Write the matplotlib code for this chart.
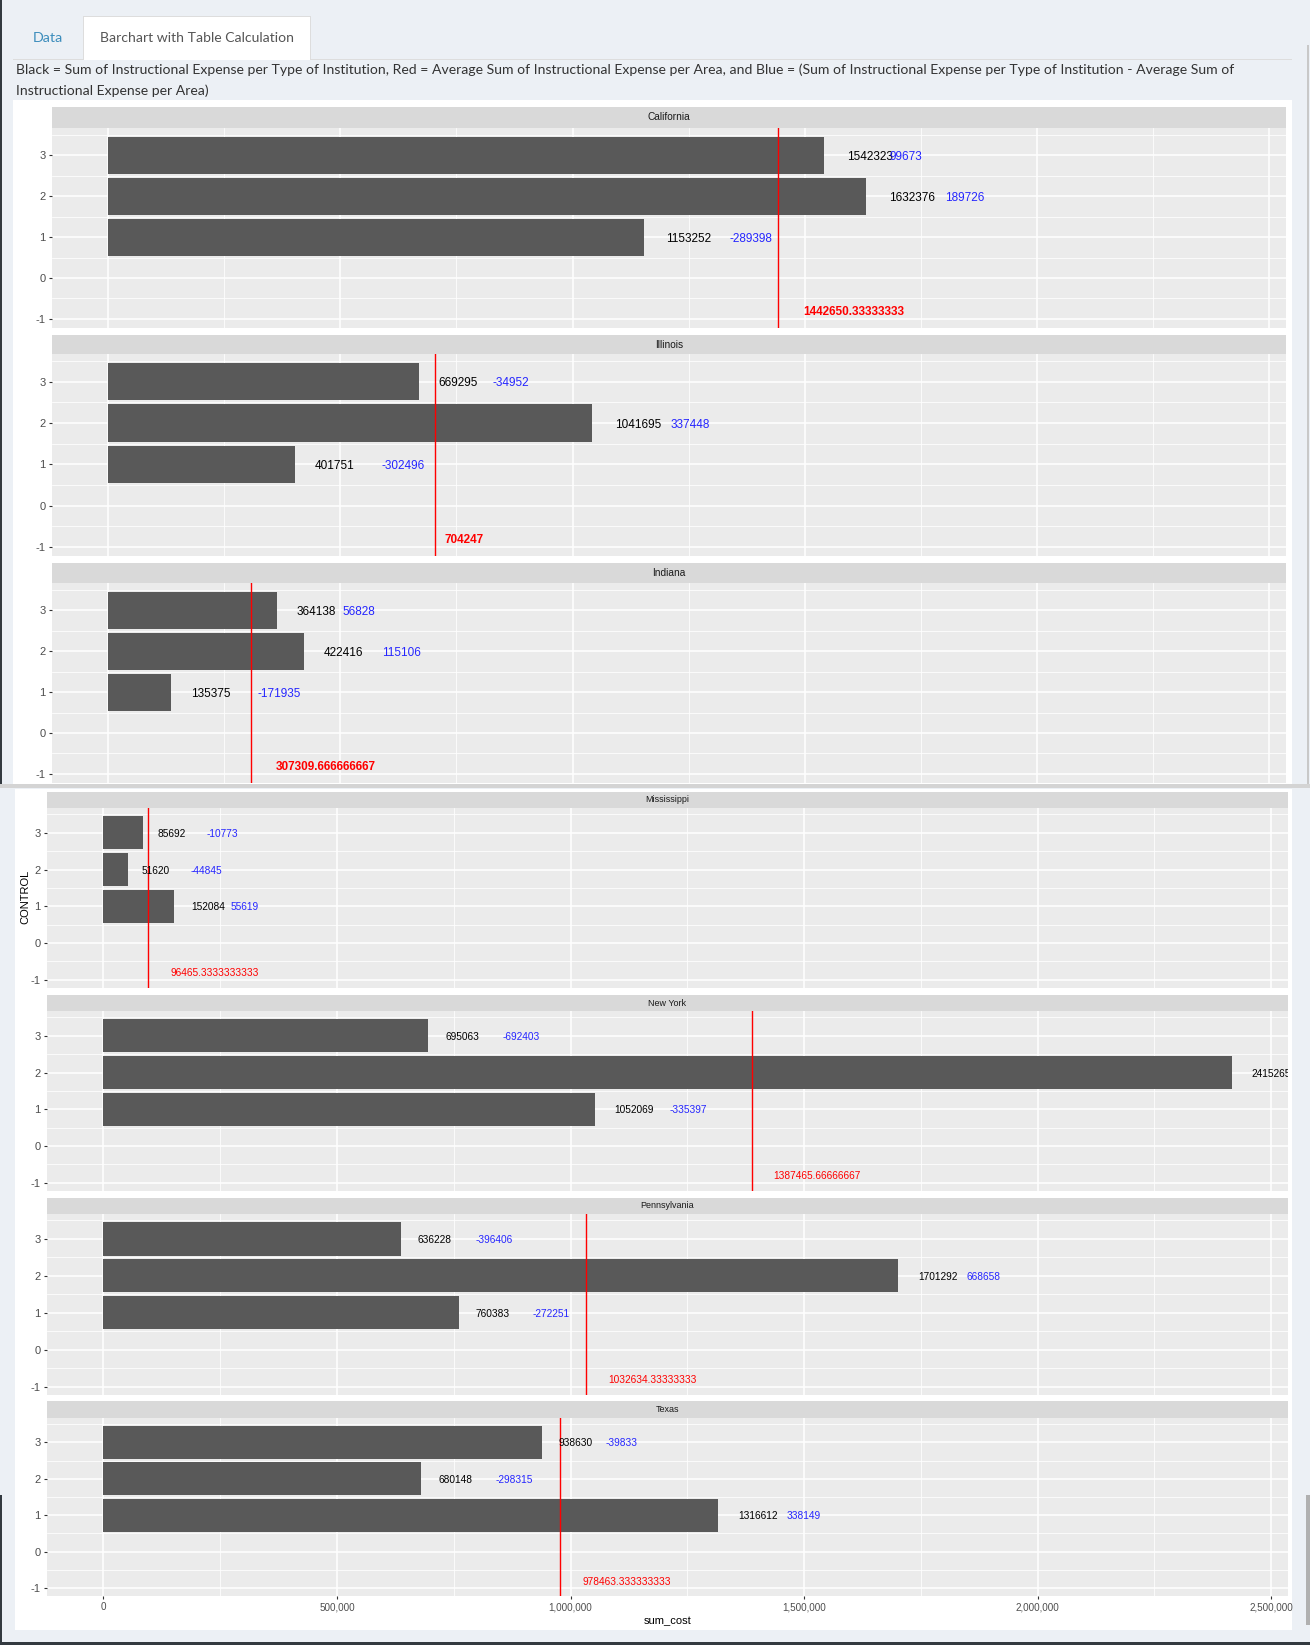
import matplotlib
matplotlib.use("Agg")
import matplotlib.pyplot as plt
from matplotlib.patches import Rectangle
from matplotlib.ticker import FixedLocator, FuncFormatter

# --- data ---
states = ["California", "Illinois", "Indiana", "Mississippi", "New York", "Pennsylvania", "Texas"]
control = [1, 2, 3]
sum_cost = [
    [1153252, 1632376, 1542323],
    [401751, 1041695, 669295],
    [135375, 422416, 364138],
    [152084, 51620, 85692],
    [1052069, 2415265, 695063],
    [760383, 1701292, 636228],
    [1316612, 680148, 938630],
]
diff_cost = [
    [-289398, 189726, 99673],
    [-302496, 337448, -34952],
    [-171935, 115106, 56828],
    [55619, -44845, -10773],
    [-335397, 1027799, -692403],
    [-272251, 668658, -396406],
    [338149, -298315, -39833],
]
avg_cost = [1442650.333, 704247, 307309.667, 96465.333, 1387465.667, 1032634.333, 978463.333]
avg_labels = ["1442650.33333333", "704247", "307309.666666667", "96465.3333333333",
              "1387465.66666667", "1032634.33333333", "978463.333333333"]
x_ticks = [0, 500000, 1000000, 1500000, 2000000, 2500000]

plt.rcParams["font.family"] = ["Liberation Sans", "DejaVu Sans"]
plt.rcParams["axes.unicode_minus"] = False
W, H = 1310, 1645
fig = plt.figure(figsize=(W / 100, H / 100), dpi=100, facecolor="#ecf0f5")
renderer = fig.canvas.get_renderer()


def box(x0, y0, x1, y1):
    return [x0 / W, 1 - y1 / H, (x1 - x0) / W, (y1 - y0) / H]


def fig_rect(x0, y0, x1, y1, color):
    fig.patches.append(Rectangle((x0 / W, 1 - y1 / H), (x1 - x0) / W, (y1 - y0) / H,
                                 transform=fig.transFigure, facecolor=color,
                                 edgecolor="none", zorder=-10))


# --- page furniture (two stitched screenshots) ---
fig_rect(13, 100, 1292, 784, "white")
fig_rect(0, 784, 1310, 788, "#d4d4d4")
fig_rect(15, 789, 1292, 1630, "white")
fig_rect(0, 0, 2, 784, "#333a40")
fig_rect(0, 1495, 2, 1645, "#333a40")
fig_rect(0, 1642, 1310, 1645, "#333a40")
fig_rect(1307, 45, 1309, 784, "#c8c8c8")
fig_rect(1306, 1495, 1310, 1625, "#b0b0b0")
fig_rect(13, 59, 1292, 60, "#dddddd")
fig_rect(83, 16, 311, 60, "#dddddd")
fig_rect(84, 17, 310, 60, "white")

fig.text(48 / W, 1 - 38 / H, "Data", color="#3c8dbc", fontsize=10.3,
         family=["Lato", "DejaVu Sans"], ha="center", va="center")
fig.text(197 / W, 1 - 38 / H, "Barchart with Table Calculation", color="#555555",
         fontsize=10.1, family=["Lato", "DejaVu Sans"], ha="center", va="center")

line1 = ("Black = Sum of Instructional Expense per Type of Institution, Red = Average Sum of "
         "Instructional Expense per Area, and Blue = (Sum of Instructional Expense per Type of "
         "Institution - Average Sum of")
line2 = "Instructional Expense per Area)"
t1 = fig.text(16 / W, 1 - 70 / H, line1, color="#333333", fontsize=10.5,
              family=["Lato", "DejaVu Sans"], ha="left", va="center")
fs = 10.5 * 1221 / t1.get_window_extent(renderer).width
t1.set_fontsize(fs)
fig.text(16 / W, 1 - 91 / H, line2, color="#333333", fontsize=fs,
         family=["Lato", "DejaVu Sans"], ha="left", va="center")

# --- facet panels (pixel boxes from the reference) ---
panel_boxes = [
    (52, 128, 1286, 328), (52, 354, 1286, 556), (52, 583, 1286, 783),
    (47, 808, 1288, 988), (47, 1011, 1288, 1191), (47, 1214, 1288, 1395),
    (47, 1418, 1288, 1596),
]
strip_tops = [107, 335, 563, 792, 995, 1198, 1401]
top_part = [True, True, True, False, False, False, False]

xlim = (-120763, 2536028)
ylim = (-1.2225, 3.6725)


def put_label(ax, x, y, s, color, hjust, size, weight="normal"):
    t = ax.text(x, y, s, color=color, fontsize=size, ha="left", va="center_baseline",
                clip_on=True, fontweight=weight)
    w_px = t.get_window_extent(renderer).width
    w_data = w_px * (xlim[1] - xlim[0]) / ax.get_window_extent(renderer).width
    t.set_x(x - hjust * w_data)


for i, state in enumerate(states):
    x0, y0, x1, y1 = panel_boxes[i]
    big = top_part[i]
    lab_size = 8.5 if big else 7.3

    st = fig.add_axes(box(x0, strip_tops[i], x1, y0))
    st.set_facecolor("#d9d9d9")
    st.set_xticks([])
    st.set_yticks([])
    for s in st.spines.values():
        s.set_visible(False)
    st.text(0.5, 0.5, state, transform=st.transAxes, ha="center", va="center",
            fontsize=7.3 if big else 6.5, color="#1a1a1a")

    ax = fig.add_axes(box(x0, y0, x1, y1))
    ax.set_facecolor("#ebebeb")
    ax.set_xlim(xlim)
    ax.set_ylim(ylim)
    for s in ax.spines.values():
        s.set_visible(False)
    ax.xaxis.set_major_locator(FixedLocator(x_ticks))
    ax.xaxis.set_minor_locator(FixedLocator([250000, 750000, 1250000, 1750000, 2250000]))
    ax.yaxis.set_major_locator(FixedLocator([-1, 0, 1, 2, 3]))
    ax.yaxis.set_minor_locator(FixedLocator([-0.5, 0.5, 1.5, 2.5, 3.5]))
    ax.grid(which="major", color="white", lw=1.1)
    ax.grid(which="minor", color="white", lw=0.55)
    ax.set_axisbelow(True)
    ax.tick_params(axis="y", which="major", length=2.5, width=0.8, color="#333333",
                   labelsize=8, labelcolor="#4d4d4d", pad=2)
    ax.tick_params(which="minor", length=0)
    if state == "Texas":
        ax.tick_params(axis="x", which="major", length=2.5, width=0.8, color="#333333",
                       labelsize=7.1, labelcolor="#4d4d4d", pad=2)
        ax.xaxis.set_major_formatter(FuncFormatter(lambda v, p: f"{int(v):,}"))
        ax.set_xlabel("sum_cost", fontsize=8, labelpad=3)
    else:
        ax.tick_params(axis="x", which="major", length=0, labelbottom=False)

    ax.barh(control, sum_cost[i], height=0.9, color="#595959", linewidth=0, zorder=2)
    ax.axvline(avg_cost[i], color="#ff0000", lw=1.0, zorder=3)

    wt = "bold" if big else "normal"
    for c, v, d in zip(control, sum_cost[i], diff_cost[i]):
        put_label(ax, v, c, str(v), "black", -0.5, lab_size)
        put_label(ax, v, c, str(d), "#2525ff", -2.0, lab_size)
    put_label(ax, avg_cost[i], -0.8, avg_labels[i], "#ff0000", -0.25, lab_size, wt)

fig.text(25 / W, 1 - 897 / H, "CONTROL", rotation=90, fontsize=8, ha="center", va="center")

fig.savefig("out.png", dpi=100, facecolor=fig.get_facecolor())
